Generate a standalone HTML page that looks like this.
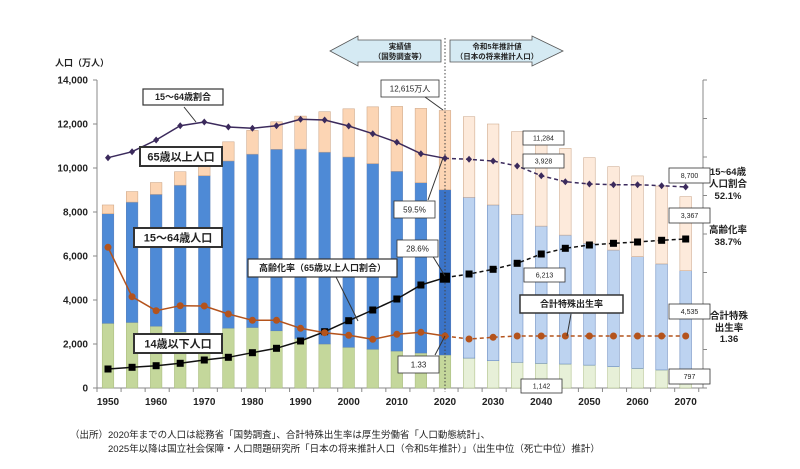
<!DOCTYPE html>
<html><head><meta charset="utf-8"><style>
html,body{margin:0;padding:0;background:#fff;width:800px;height:469px;overflow:hidden}
svg{display:block;font-family:"Liberation Sans","Noto Sans CJK JP",sans-serif}
</style></head><body>
<svg id="c" width="800" height="469" viewBox="0 0 800 469" xmlns="http://www.w3.org/2000/svg"></svg>
<script>
const S=document.getElementById('c');let h='';
const X=y=>108+(y-1950)/5*24.07, Y=v=>388-v*0.022;
const d=[[1950,2940,7920,8320],[1955,2980,8450,8930],[1960,2810,8800,9340],[1965,2550,9220,9830],[1970,2480,9650,10370],[1975,2720,10320,11190],[1980,2750,10630,11710],[1985,2600,10850,12100],[1990,2250,10860,12360],[1995,2000,10720,12560],[2000,1850,10500,12690],[2005,1760,10200,12780],[2010,1680,9850,12800],[2015,1590,9330,12710],[2020,1500,9010,12615],
[2025,1360,8670,12330],[2030,1240,8320,12000],[2035,1170,7890,11650],[2040,1120,7360,11300],[2045,1090,6950,10890],[2050,1040,6580,10470],[2055,970,6270,10060],[2060,890,5970,9640],[2065,820,5640,9180],[2070,797,5330,8700]];
h+=`<line x1="97" y1="80" x2="97" y2="388" stroke="#888"/><line x1="97" y1="388" x2="703" y2="388" stroke="#888"/><line x1="703" y1="80" x2="703" y2="388" stroke="#888"/>`;
for(let i=0;i<=7;i++){const y=Y(i*2000);h+=`<line x1="93" y1="${y}" x2="97" y2="${y}" stroke="#888"/><text x="88" y="${y+3.5}" font-size="10" font-weight="bold" text-anchor="end" fill="#222">${(i*2000).toLocaleString('en-US')}</text>`;}
for(let i=0;i<=8;i++){const y=80+i*38.5;h+=`<line x1="703" y1="${y}" x2="707" y2="${y}" stroke="#888"/>`;}
for(let i=0;i<=25;i++){const x=97+i*24.07;h+=`<line x1="${x}" y1="388" x2="${x}" y2="392" stroke="#888"/>`;}
for(let yr=1950;yr<=2070;yr+=10)h+=`<text x="${X(yr)}" y="405" font-size="10" font-weight="bold" text-anchor="middle" fill="#222">${yr}</text>`;
h+=`<text x="55" y="66" font-size="9" font-weight="bold" fill="#222">人口（万人）</text>`;
d.forEach(([yr,g,b,t])=>{const x=X(yr)-5.8,w=11.6,f=yr>2020;
const cg=f?'#e7f0d8':'#c4d79b',cb=f?'#bdd3f0':(yr==2020?'#3b74c8':'#4e8ad6'),co=f?'#fdeadb':'#fcd5b4';
h+=`<rect x="${x}" y="${Y(g)}" width="${w}" height="${Y(0)-Y(g)}" fill="${cg}" stroke="#a6b87c" stroke-width=".5"/>`;
h+=`<rect x="${x}" y="${Y(b)}" width="${w}" height="${Y(g)-Y(b)}" fill="${cb}" stroke="#5a7fb8" stroke-width=".5"/>`;
h+=`<rect x="${x}" y="${Y(t)}" width="${w}" height="${Y(b)-Y(t)}" fill="${co}" stroke="#c8a080" stroke-width=".5"/>`;});
h+=`<line x1="445" y1="38" x2="445" y2="392" stroke="#444" stroke-dasharray="1.5,2"/>`;
const P=[157.7,151.7,140,125.7,122,127,128.3,125.7,119.3,120,126,133.7,142.3,153.7,158.3,159.3,161,166,175.7,181.7,184,184.7,184.7,185.7,187];
const A=[369,367.3,365.7,363.3,360,357.3,352.7,348.3,341,331.7,320.7,310,299,285,277.7,274,269.3,263.3,254,248.3,245,243.3,242,240.3,239];
const F=[247.3,296.7,310.7,305.7,306,314,320.3,320.3,328.3,332.7,335.3,339.3,334.3,332.3,336,339,337.3,336,336,336,336,336,336,336,336];
function line(arr,col,w){let a=[],b=[];arr.forEach((v,i)=>{const p=`${X(1950+5*i)},${v}`;if(i<=14)a.push(p);if(i>=14)b.push(p);});
h+=`<polyline points="${a.join(' ')}" fill="none" stroke="${col}" stroke-width="${w}"/><polyline points="${b.join(' ')}" fill="none" stroke="${col}" stroke-width="${w}" stroke-dasharray="4,3"/>`;}
line(P,'#3b2a5c',1.5);line(A,'#111',1.5);line(F,'#b4531c',1.5);
P.forEach((v,i)=>{const x=X(1950+5*i);h+=`<polygon points="${x},${v-3.5} ${x+3},${v} ${x},${v+3.5} ${x-3},${v}" fill="#3b2a5c"/>`;});
A.forEach((v,i)=>{const x=X(1950+5*i),s=i==14?5:3.5;h+=`<rect x="${x-s}" y="${v-s}" width="${2*s}" height="${2*s}" fill="#000"/>`;});
F.forEach((v,i)=>{const x=X(1950+5*i);h+=`<circle cx="${x}" cy="${v}" r="3.5" fill="#b4531c"/>`;});
function box(x,y,w,hh,t,fs,bold,thick){h+=`<rect x="${x}" y="${y}" width="${w}" height="${hh}" fill="#fff" stroke="#333" stroke-width="${thick||0.8}"/><text x="${x+w/2}" y="${y+hh/2+fs*0.36}" font-size="${fs}" text-anchor="middle" ${bold?'font-weight="bold"':''} fill="#222">${t}</text>`;}
h+=`<line x1="184" y1="107" x2="196" y2="122" stroke="#333"/><line x1="336" y1="277" x2="358" y2="321" stroke="#333"/><line x1="425" y1="97" x2="443" y2="110" stroke="#333"/><line x1="428" y1="200" x2="443" y2="158" stroke="#333"/><line x1="432" y1="255" x2="445" y2="276" stroke="#333"/><line x1="435" y1="355" x2="445" y2="336" stroke="#333"/><line x1="571" y1="314" x2="567" y2="336" stroke="#333"/>`;
box(143,89,80,16,'15〜64歳割合',9,true,1.2);
box(140,147,82,19,'65歳以上人口',11,true,2);
box(134,228,88,19,'15〜64歳人口',11,true,2);
box(134,334,88,19,'14歳以下人口',11,true,2);
box(248,259,149,18,'高齢化率（65歳以上人口割合）',9,true,1.2);
box(381,80,58,17,'12,615万人',8);
box(394,201,41,17,'59.5%',8);
box(397,240,41,17,'28.6%',8);
box(398,356,41,17,'1.33',8);
box(523,131,41,14,'11,284',7);
box(523,154,41,14,'3,928',7);
box(524,268,41,14,'6,213',7);
box(521,379,41,14,'1,142',7);
box(520,295,103,18,'合計特殊出生率',9,true,1.5);
box(669,168,41,15,'8,700',7);
box(669,208,41,15,'3,367',7);
box(669,304,41,15,'4,535',7);
box(669,369,41,15,'797',7);
const R=(x,y,t,fs,b)=>h+=`<text x="${x}" y="${y}" font-size="${fs}" ${b?'font-weight="bold"':''} text-anchor="middle" fill="#222">${t}</text>`;
R(728,175,'15~64歳',9.5,1);R(728,187,'人口割合',9.5,1);R(728,199,'52.1%',9.5,1);
R(728,233,'高齢化率',9.5,1);R(728,245,'38.7%',9.5,1);
R(729,319,'合計特殊',9.5,1);R(729,331,'出生率',9.5,1);R(729,342,'1.36',9.5,1);
h+=`<polygon points="330,51 358,36 358,40 441,40 441,62 358,62 358,66" fill="#d5eaf3" stroke="#555" stroke-width=".8"/>`;
h+=`<polygon points="450,40 532,40 532,36 563,51 532,66 532,62 450,62" fill="#d5eaf3" stroke="#555" stroke-width=".8"/>`;
R(400,49,'実績値',7.5,1);R(400,59,'（国勢調査等）',7.5,1);R(497,49,'令和5年推計値',7.5,1);R(497,59,'（日本の将来推計人口）',7.5,1);
h+=`<text x="70" y="438" font-size="9.5" fill="#222">（出所）</text><text x="108" y="438" font-size="9.5" fill="#222">2020年までの人口は総務省「国勢調査」、合計特殊出生率は厚生労働省「人口動態統計」、</text><text x="108" y="452" font-size="9.5" fill="#222">2025年以降は国立社会保障・人口問題研究所「日本の将来推計人口（令和5年推計）」（出生中位（死亡中位）推計）</text>`;
S.innerHTML=h;
</script>
</body></html>
